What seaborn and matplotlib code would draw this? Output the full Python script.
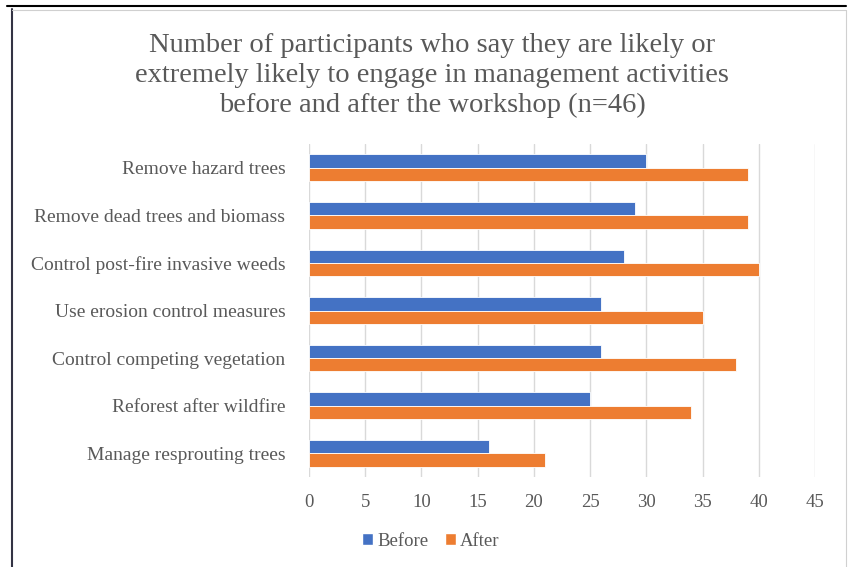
import matplotlib
matplotlib.use("Agg")
import matplotlib.pyplot as plt
import seaborn as sns
import pandas as pd
from matplotlib.lines import Line2D
from matplotlib.patches import Patch

activities = [
    "Remove hazard trees",
    "Remove dead trees and biomass",
    "Control post-fire invasive weeds",
    "Use erosion control measures",
    "Control competing vegetation",
    "Reforest after wildfire",
    "Manage resprouting trees",
]
before = [30, 29, 28, 26, 26, 25, 16]
after = [39, 39, 40, 35, 38, 34, 21]

df = pd.DataFrame({
    "Activity": activities * 2,
    "Count": before + after,
    "When": ["Before"] * len(activities) + ["After"] * len(activities),
})

sns.set_style("white")
plt.rcParams["font.family"] = ["Liberation Serif", "DejaVu Serif"]
txt = "#595959"
colors = {"Before": "#4472C4", "After": "#ED7D31"}

fig = plt.figure(figsize=(8.48, 5.67), dpi=100)
ax = fig.add_axes([309 / 848, 1 - 477 / 567, (815 - 309) / 848, (477 - 144) / 567])

sns.barplot(data=df, y="Activity", x="Count", hue="When", palette=colors,
            order=activities, hue_order=["Before", "After"], width=0.56,
            orient="h", ax=ax, legend=False, saturation=1,
            edgecolor="white", linewidth=0.6)

ax.set_xlim(0, 45)
ax.set_xticks(range(0, 46, 5))
ax.set_xlabel("")
ax.set_ylabel("")
ax.grid(axis="x", color="#D9D9D9", linewidth=1)
ax.set_axisbelow(True)
for s in ax.spines.values():
    s.set_visible(False)
ax.tick_params(axis="y", length=0, pad=17, labelsize=14, labelcolor=txt)
ax.tick_params(axis="x", length=0, pad=12, labelsize=13.5, labelcolor=txt)

fig.text(432 / 848, 1 - 75.5 / 567,
         "Number of participants who say they are likely or\n"
         "extremely likely to engage in management activities\n"
         "before and after the workshop (n=46)",
         ha="center", va="center", fontsize=20.5, color=txt, linespacing=1.27)

handles = [Patch(facecolor=colors[k], label=k) for k in ["Before", "After"]]
leg = fig.legend(handles=handles, loc="center", bbox_to_anchor=(431 / 848, 1 - 541 / 567),
                 ncol=2, frameon=False, fontsize=13.5, handlelength=0.55, handleheight=0.55,
                 handletextpad=0.25, columnspacing=0.9)
for t in leg.get_texts():
    t.set_color(txt)

# frame around the chart as in the screenshot
fig.add_artist(Line2D([7 / 848, 846 / 848], [1 - 6 / 567, 1 - 6 / 567], color="black", lw=1.5))
fig.add_artist(Line2D([12 / 848, 12 / 848], [0, 1 - 9 / 567], color="#333344", lw=1.5))
fig.add_artist(Line2D([12 / 848, 846 / 848], [1 - 10 / 567, 1 - 10 / 567], color="#D0D0D0", lw=0.8))
fig.add_artist(Line2D([846 / 848, 846 / 848], [0, 1 - 10 / 567], color="#D0D0D0", lw=0.8))

fig.savefig("out.png", dpi=100)
